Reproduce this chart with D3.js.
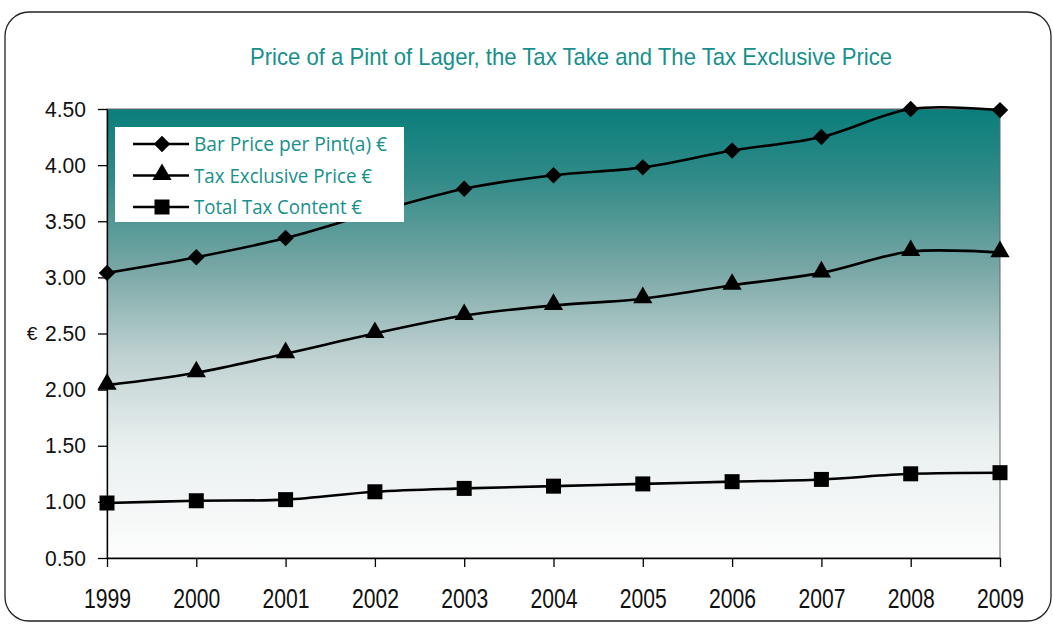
<!DOCTYPE html>
<html>
<head>
<meta charset="utf-8">
<script src="https://cdn.jsdelivr.net/npm/d3@7"></script>
<style>
  body { margin: 0; background: #fff; }
  svg { display: block; }
</style>
</head>
<body>
<div id="chart"></div>
<script>
"use strict";
var width = 1053;
var height = 624;

// data
var years = ["1999", "2000", "2001", "2002", "2003", "2004", "2005", "2006", "2007", "2008", "2009"];
var bar_price = [3.04, 3.18, 3.35, 3.58, 3.79, 3.91, 3.98, 4.13, 4.25, 4.50, 4.49];
var tax_exclusive = [2.04, 2.15, 2.32, 2.50, 2.66, 2.75, 2.81, 2.93, 3.04, 3.23, 3.22];
var tax_content = [0.99, 1.01, 1.02, 1.09, 1.12, 1.14, 1.16, 1.18, 1.20, 1.25, 1.26];
var y_ticks = [0.5, 1.0, 1.5, 2.0, 2.5, 3.0, 3.5, 4.0, 4.5];

var series = [
  { name: "Bar Price per Pint(a) \u20ac", values: bar_price, marker: "diamond" },
  { name: "Tax Exclusive Price \u20ac", values: tax_exclusive, marker: "triangle" },
  { name: "Total Tax Content \u20ac", values: tax_content, marker: "square" }
];

var margin = { left: 107, right: 53, top: 109, bottom: 66 };
var font = "'Liberation Sans', Arial, sans-serif";
var teal = "#16908b";

var svg = d3.select("#chart")
  .append("svg")
  .attr("width", width)
  .attr("height", height);

// outer rounded frame
svg.append("rect")
  .attr("x", 5).attr("y", 12)
  .attr("width", 1046).attr("height", 609)
  .attr("rx", 24).attr("ry", 24)
  .attr("fill", "white")
  .attr("stroke", "#222")
  .attr("stroke-width", 1.3);

var x = d3.scalePoint()
  .domain(years)
  .range([margin.left, width - margin.right]);

var y = d3.scaleLinear()
  .domain([0.5, 4.5])
  .range([height - margin.bottom, margin.top]);

// plot area gradient
var grad = svg.append("defs").append("linearGradient")
  .attr("id", "bg").attr("x1", 0).attr("y1", 0).attr("x2", 0).attr("y2", 1);
[[0, "#0a7e7b"], [0.15, "#2f8a87"], [0.35, "#76a6a4"], [0.55, "#bfd1d1"], [0.75, "#e9efef"], [1, "#fdfdfd"]]
  .forEach(function (s) {
    grad.append("stop").attr("offset", s[0]).attr("stop-color", s[1]);
  });

svg.append("rect")
  .attr("x", x.range()[0])
  .attr("y", y(4.5))
  .attr("width", x.range()[1] - x.range()[0])
  .attr("height", y(0.5) - y(4.5))
  .attr("fill", "url(#bg)")
  .attr("stroke", "#666")
  .attr("stroke-width", 1);

// title (narrow look via textLength)
svg.append("text")
  .attr("x", 571).attr("y", 65)
  .attr("text-anchor", "middle")
  .attr("textLength", 642)
  .attr("lengthAdjust", "spacingAndGlyphs")
  .style("font-family", font)
  .style("font-size", "24px")
  .attr("fill", teal)
  .text("Price of a Pint of Lager, the Tax Take and The Tax Exclusive Price");

// axes
var yAxis = svg.append("g")
  .attr("transform", "translate(" + margin.left + ",0)")
  .call(d3.axisLeft(y).tickValues(y_ticks).tickFormat(d3.format(".2f")).tickSize(9).tickSizeOuter(0).tickPadding(12));
var xAxis = svg.append("g")
  .attr("transform", "translate(0," + (height - margin.bottom) + ")")
  .call(d3.axisBottom(x).tickSize(9).tickSizeOuter(0));

[yAxis, xAxis].forEach(function (g) {
  g.select(".domain").attr("stroke", "#000").attr("stroke-width", 1.3);
  g.selectAll(".tick line").attr("stroke", "#000").attr("stroke-width", 1.3);
  g.selectAll("text").style("font-family", font).attr("fill", "#111");
});
yAxis.selectAll("text")
  .style("font-size", "22px")
  .attr("textLength", 41)
  .attr("lengthAdjust", "spacingAndGlyphs");
xAxis.selectAll("text")
  .style("font-size", "28px")
  .attr("y", 50).attr("dy", 0)
  .attr("textLength", 47)
  .attr("lengthAdjust", "spacingAndGlyphs");

// axis title
svg.append("text")
  .attr("x", 32).attr("y", y(2.5))
  .attr("dy", "0.35em")
  .attr("text-anchor", "middle")
  .style("font-family", font)
  .style("font-size", "19px")
  .attr("fill", "#111")
  .text("\u20ac");

// lines
var line = d3.line()
  .x(function (d, i) { return x(years[i]); })
  .y(function (d) { return y(d); })
  .curve(d3.curveCatmullRom.alpha(0.5));

series.forEach(function (s) {
  svg.append("path")
    .datum(s.values)
    .attr("d", line)
    .attr("fill", "none")
    .attr("stroke", "#000")
    .attr("stroke-width", 2.6);
});

// markers
var markerPath = function (m) {
  if (m === "triangle") return d3.symbol().type(d3.symbolTriangle).size(160)();
  if (m === "diamond") return d3.symbol().type(d3.symbolSquare).size(135)();
  return d3.symbol().type(d3.symbolSquare).size(225)();
};
var markerTransform = function (m, cx, cy) {
  if (m === "diamond") return "translate(" + cx + "," + cy + ") rotate(45)";
  if (m === "triangle") return "translate(" + cx + "," + (cy - 1) + ")";
  return "translate(" + cx + "," + cy + ")";
};
series.forEach(function (s) {
  svg.append("g")
    .selectAll("path")
    .data(s.values)
    .enter()
    .append("path")
    .attr("d", markerPath(s.marker))
    .attr("transform", function (d, i) { return markerTransform(s.marker, x(years[i]), y(d)); })
    .attr("fill", "#000");
});

// legend
var legend = svg.append("g").attr("transform", "translate(115,127)");
legend.append("rect")
  .attr("width", 289).attr("height", 95)
  .attr("fill", "white");
var rows = legend.selectAll("g.row")
  .data(series)
  .enter()
  .append("g")
  .attr("class", "row")
  .attr("transform", function (d, i) { return "translate(0," + (17 + i * 31.5) + ")"; });
rows.append("line")
  .attr("x1", 18).attr("x2", 74)
  .attr("stroke", "#000").attr("stroke-width", 2.6);
rows.append("path")
  .attr("d", function (d) { return markerPath(d.marker); })
  .attr("transform", function (d) { return markerTransform(d.marker, 47, 0); })
  .attr("fill", "#000");
rows.append("text")
  .attr("x", 79).attr("dy", "0.36em")
  .style("font-family", "'Open Sans', sans-serif")
  .style("font-size", "20px")
  .attr("textLength", function (d, i) { return [193, 178, 168][i]; })
  .attr("lengthAdjust", "spacingAndGlyphs")
  .attr("fill", teal)
  .text(function (d) { return d.name; });
</script>
</body>
</html>
